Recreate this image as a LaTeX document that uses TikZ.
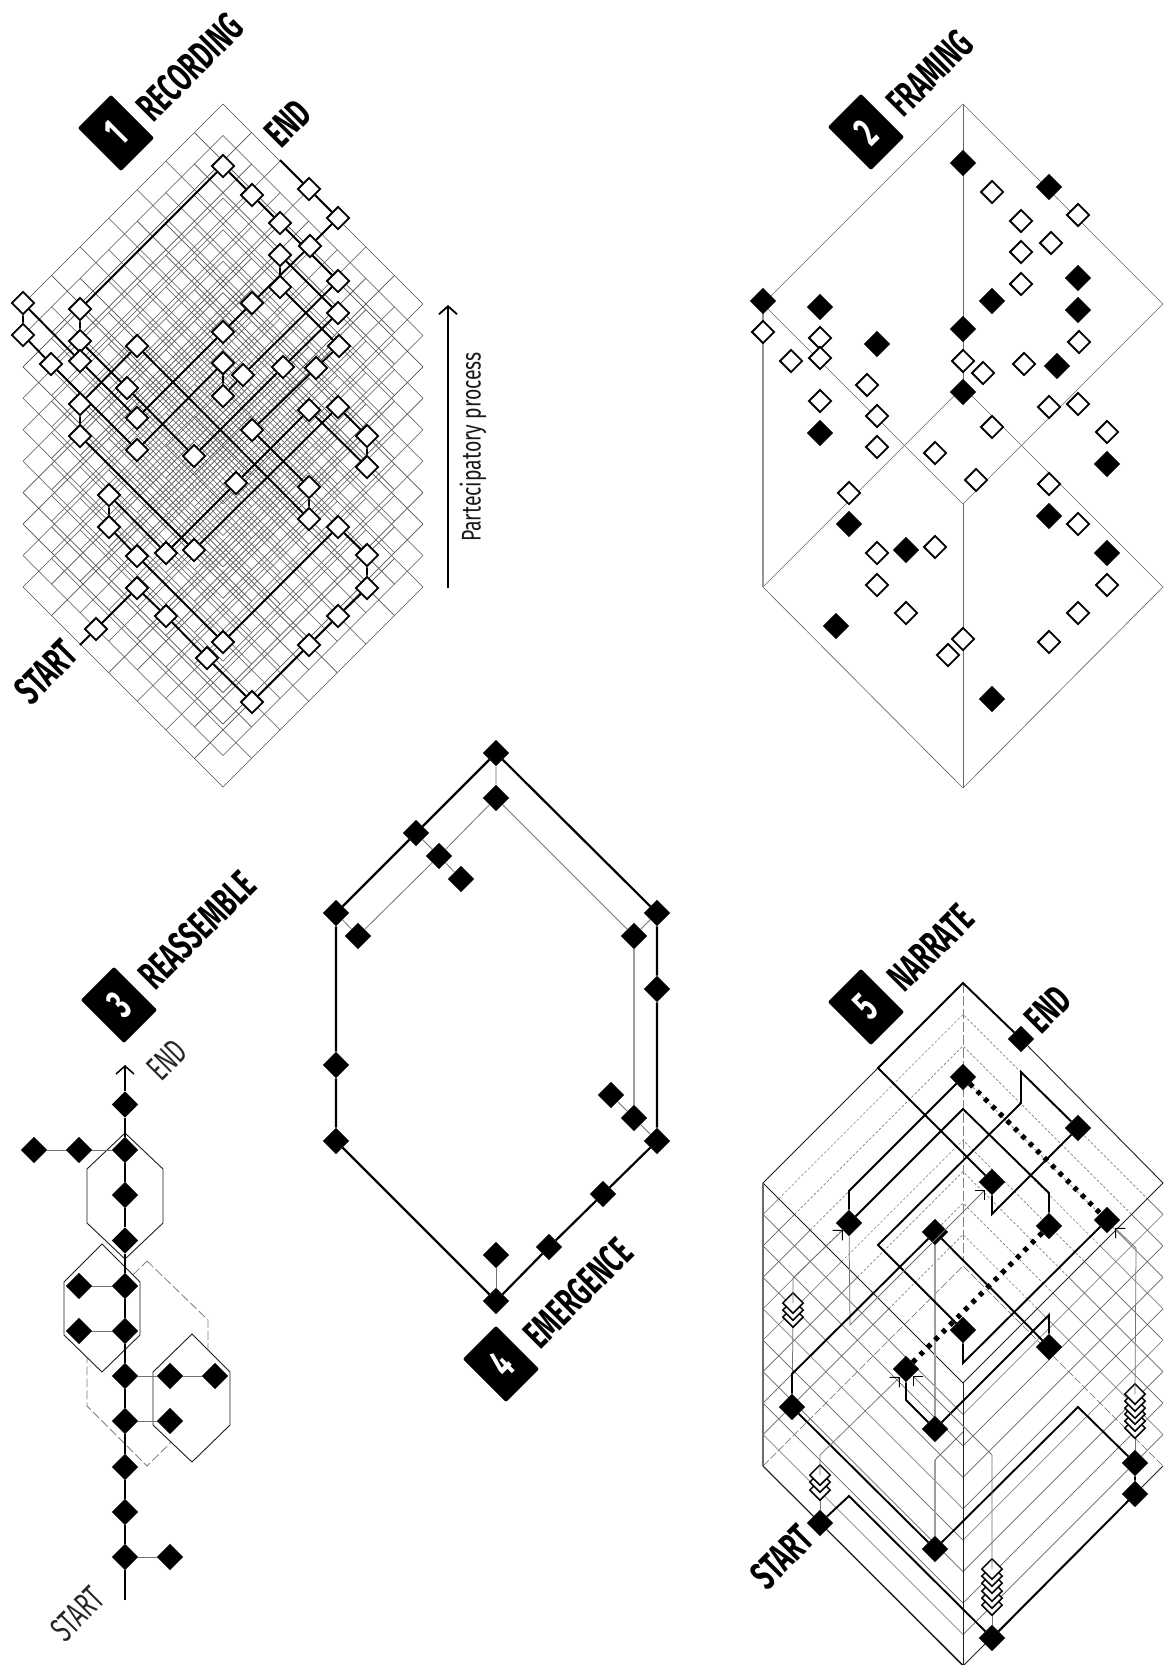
\documentclass[tikz,border=0pt]{standalone}
\usepackage{fontspec}
\usetikzlibrary{shapes.geometric,arrows.meta}
\newfontfamily\din[FakeStretch=0.625]{Fira Sans}
\newfontfamily\dinw[FakeStretch=0.72]{Fira Sans}
\pgfdeclarelayer{bglayer}\pgfdeclarelayer{gridlayer}\pgfdeclarelayer{wirelayer}\pgfdeclarelayer{overlayer}
\pgfsetlayers{bglayer,gridlayer,wirelayer,main,overlayer}
\tikzset{
 hollow/.style={diamond,draw=black,fill=white,line width=1.8pt,inner sep=0,minimum width=22.8pt,minimum height=22.8pt},
 solidd/.style={diamond,fill=black,inner sep=0,minimum width=26.5pt,minimum height=26.5pt},
 stackd/.style={diamond,draw=black,fill=white,line width=1.5pt,inner sep=0,minimum width=21pt,minimum height=21pt},
 wire/.style={line width=1.9pt,black},
 thinwire/.style={line width=0.8pt,black!55},
 lightwire/.style={line width=1.2pt,black!38},
 gridline/.style={line width=0.6pt,black!68},
 darkline/.style={line width=0.9pt,black!88},
 faint/.style={line width=0.65pt,black!60},
 dashedfaint/.style={line width=0.65pt,black!50,dash pattern=on 2.6pt off 2pt},
 route/.style={line width=0.75pt,black!55},
 routetip/.style={-{Straight Barb[length=7pt,width=14pt,black,line width=1pt]}},
 dotline/.style={line width=5pt,black,dash pattern=on 4.5pt off 6pt},
 badge/.style={fill=black,text=white,rounded corners=2pt,minimum width=47pt,minimum height=61pt,inner sep=0,rotate=45,font=\din\bfseries\fontsize{42}{42}\selectfont},
 headlab/.style={rotate=45,inner sep=0,font=\din\bfseries\fontsize{40}{40}\selectfont},
 lightlab/.style={rotate=45,inner sep=0,font=\din\fontsize{35}{35}\selectfont,black!85},
}
\begin{document}
\begin{tikzpicture}[x=1pt,y=-1pt]
\begin{pgfonlayer}{bglayer}
\fill[white] (0,0) rectangle (1163,1665);
\end{pgfonlayer}
\useasboundingbox (0,0) rectangle (1163,1665);

% ---------- Panel 1 grid ----------
\begin{pgfonlayer}{gridlayer}
\foreach \k in {0,...,9}{
 \pgfmathsetmacro\ay{104+31.44*\k}
 \foreach \i in {0,...,7}{
  \pgfmathsetmacro\d{\i*200/7}
  \draw[gridline] (223-\d,\ay+\d) -- ++(200,200);
  \draw[gridline] (223+\d,\ay+\d) -- ++(-200,200);
 }
}
\end{pgfonlayer}

\foreach \n/\x/\y in {a/223/166,b/252/195,c/280/223,d/309/189,e/338/218,f/310/246,g/280/255,h/338/281,i/280/287,j/252/303,k/338/313,l/223/332,m/339/346,n/23/303,o/23/335,p/80/309,q/80/341,r/51/364,s/80/361,t/137/346,u/127/388,v/223/363,w/243/375,A/223/396,x/283/367,y/316/368,B/80/404,C/137/418,D/80/436,E/137/450,F/194/456,G/252/430,H/309/410,I/338/407,J/367/436,K/367/467,L/236/483,M/309/487,N/309/519,O/338/527,P/367/555,Q/367/588,R/109/495,S/109/527,T/137/556,U/166/553,V/194/550,W/137/588,X/96/629,Y/166/616,Z/223/642,AA/207/658,BB/252/702,CC/338/616,DD/309/645}
 {\node[hollow] (r\n) at (\x,\y) {};}
\coordinate (rstart) at (80,645);
\coordinate (rend) at (280,160);
\begin{pgfonlayer}{wirelayer}
\draw[wire] (rstart)--(rX)--(rW)--(rY)--(rAA)--(rBB)--(rDD)--(rCC)--(rQ)--(rP)--(rO)--(rZ)--(rT)--(rS)--(rR)--(rU)--(rL)--(rH)--(rK)--(rJ)--(rI)--(rV)--(rD)--(rB)--(rt)--(rN)--(rM)--(rG)--(ry)--(rm)--(ri)--(rg)--(rk)--(rx)--(rF)--(ru)--(rq)--(rp)--(ra)--(rb)--(rc)--(rh)--(rw)--(rA)--(rv)--(rE)--(rr)--(ro)--(rn)--(rs)--(rC)--(rl)--(rj)--(rf)--(re)--(rd)--(rend);
\end{pgfonlayer}
\node[badge] (b1) at (116,133) {1};
\node[headlab] (t1) at (190,67) {RECORDING};
\node[headlab] (t1e) at (288,123) {END};
\node[headlab] (t1s) at (46,672) {START};
\coordinate (pa) at (448,588);
\coordinate (pb) at (448,305);
\draw[line width=1.8pt,-{Straight Barb[length=8pt,width=18pt,line width=1.8pt]}] (pa) -- (pb);
\node[rotate=90,inner sep=0,font=\dinw\fontsize{27}{27}\selectfont,black!90] (t1p) at (473,447) {Partecipatory process};

% ---------- Panel 2 ----------
\coordinate (f1) at (963,104);\coordinate (f2) at (763,304);\coordinate (f3) at (963,504);\coordinate (f4) at (1163,304);
\coordinate (f5) at (763,587);\coordinate (f6) at (963,387);\coordinate (f7) at (1163,587);\coordinate (f8) at (963,788);
\begin{pgfonlayer}{gridlayer}
\draw[faint] (f1)--(f2)--(f3)--(f4)--cycle;
\draw[faint] (f5)--(f6)--(f7)--(f8)--cycle;
\draw[faint] (f1)--(f6);
\draw[faint] (f3)--(f8);
\draw[line width=1.1pt,black!42] (f2)--(f5);
\end{pgfonlayer}
\foreach \x/\y [count=\i] in {963/163,1049/187,1078/278,992/301,1078/310,763/301,820/307,963/329,877/344,1057/366,963/392,820/433,1107/464,849/524,906/550,1049/516,1107/553,836/626,992/699}
 {\node[solidd] (fb\i) at (\x,\y) {};}
\foreach \x/\y [count=\i] in {992/192,1078/215,1021/221,1051/243,1021/252,1021/284,763/332,820/338,1079/342,820/358,791/361,963/361,983/373,1024/364,867/385,820/401,1049/407,1078/404,877/416,992/427,1107/432,877/447,935/453,976/480,1049/484,849/493,1078/524,877/553,935/547,877/585,1107/585,906/613,1078/613,963/639,948/655,1049/642}
 {\node[hollow] (fh\i) at (\x,\y) {};}
\node[badge] (b2) at (866,132) {2};
\node[headlab] (t2) at (930,73) {FRAMING};

% ---------- Panel 3 ----------
\draw[line width=0.8pt,black!50,dash pattern=on 9pt off 3pt] (147,1261)--(208,1320)--(208,1406)--(147,1466)--(87,1406)--(87,1320)--cycle;
\draw[line width=0.9pt,black!88] (125,1133)--(163,1169)--(163,1223)--(125,1259)--(87,1223)--(87,1169)--cycle;
\draw[line width=0.9pt,black!88,fill=white] (102,1244)--(140,1282)--(140,1335)--(102,1372)--(64,1335)--(64,1282)--cycle;
\draw[line width=0.9pt,black!88,fill=white] (192,1334)--(230,1372)--(230,1425)--(192,1462)--(153,1425)--(153,1372)--cycle;
\foreach \y [count=\i] in {1104.5,1150,1195,1240.5,1286,1331,1376,1421,1467,1512,1557}
 {\node[solidd] (sp\i) at (125,\y) {};}
\foreach \n/\x/\y in {a/79/1150,b/34/1150,c/79/1286,d/79/1331,e/170/1376,f/215/1376,g/170/1421,h/170/1557}
 {\node[solidd] (ss\n) at (\x,\y) {};}
\coordinate (spbot) at (125,1600);
\coordinate (sptop) at (125,1065);
\draw[line width=2.2pt,-{Straight Barb[length=8pt,width=18pt,line width=1.5pt]}] (spbot)--(sp11)--(sp10)--(sp9)--(sp8)--(sp7)--(sp6)--(sp5)--(sp4)--(sp3)--(sp2)--(sp1)--(sptop);
\draw[thinwire] (ssb)--(ssa)--(sp2);
\draw[thinwire] (ssc)--(sp5);
\draw[thinwire] (ssd)--(sp6);
\draw[thinwire] (sp7)--(sse)--(ssf);
\draw[thinwire] (sp8)--(ssg);
\draw[thinwire] (sp11)--(ssh);
\node[badge] (b3) at (119,1005) {3};
\node[headlab] (t3) at (197,930) {REASSEMBLE};
\node[lightlab] (t3e) at (167,1060) {END};
\node[lightlab] (t3s) at (77.5,1614) {START};

% ---------- Panel 4 ----------
\foreach \n/\x/\y in {a/496/753,b/496/798,c/416/833,d/439/856,e/461/879,f/336/913,g/358/936,h/657/913,i/634/936,j/657/989,k/336/1065,l/336/1141,m/657/1141,n/634/1118,o/611/1095,p/603/1194,q/549/1247,r/496/1255,s/496/1301}
 {\node[solidd] (e\n) at (\x,\y) {};}
\begin{pgfonlayer}{wirelayer}
\draw[line width=2.2pt] (ea)--(eh)--(ej)--(em)--(ep)--(eq)--(es)--(el)--(ek)--(ef)--(ec)--(ea);
\draw[thinwire] (ea)--(eb)--(ed)--(eg)--(ef);
\draw[thinwire] (ec)--(ed)--(ee);
\draw[thinwire] (eb)--(ei)--(eh);
\draw[lightwire] (ei)--(en);
\draw[thinwire] (eo)--(en)--(em);
\draw[thinwire] (er)--(es);
\end{pgfonlayer}
\node[badge] (b4) at (501,1364) {4};
\node[headlab] (t4) at (578,1293) {EMERGENCE};

% ---------- Panel 5 ----------
\begin{pgfonlayer}{gridlayer}
\foreach \k in {1,...,9}{
 \pgfmathsetmacro\ly{1183+31.44*\k}
 \pgfmathsetmacro\ay{983+31.44*\k}
 \pgfmathsetmacro\vy{1383+31.44*\k}
 \pgfmathsetmacro\mm{15.72*\k}
 \ifnum\k<9
  \draw[faint] (763,\ly) -- (763+\mm,1183+\mm);
  \draw[faint] (1163,\ly) -- (1163-\mm,1183+\mm);
  \draw[dashedfaint] (763+\mm,1183+\mm) -- (963,\ay) -- (1163-\mm,1183+\mm);
  \draw[faint] (763,\ly) -- (963,\vy) -- (1163,\ly);
 \else
  \draw[line width=0.65pt,black!60,dash pattern=on 8pt off 2.5pt] (763,\ly) -- (963,\ay) -- (1163,\ly);
  \draw[darkline] (763,\ly) -- (963,\vy) -- (1163,\ly);
 \fi
}
\end{pgfonlayer}
\coordinate (n1) at (963,983);\coordinate (n2) at (763,1183);\coordinate (n3) at (963,1383);\coordinate (n4) at (1163,1183);
\coordinate (n5) at (763,1466);\coordinate (n6) at (963,1665);\coordinate (n7) at (963,1260);
\coordinate (c1) at (849,1496);\coordinate (c2) at (1078,1407);\coordinate (c3) at (792,1374);\coordinate (c4) at (1049,1315);
\coordinate (c5) at (906,1400);\coordinate (c6) at (1049,1193);\coordinate (c7) at (963,1109);\coordinate (c8) at (849,1191);
\coordinate (c9) at (963,1363);\coordinate (c10) at (878,1245);\coordinate (c11) at (1021,1103);\coordinate (c12) at (1021,1072);
\coordinate (c13) at (992,1214);\coordinate (c14) at (878,1068);
\foreach \n/\x/\y in {end/1021/1039,k/963/1077,l/1078/1128,d/992/1182,a/849/1223,m/1049/1226,h/1107/1220,c/935/1232,n/963/1330,o/1049/1347,f/906/1369,e/792/1407,g/935/1429,i/1135/1463,j/1135/1494,start/820/1523,p/935/1549,b/992/1638}
 {\node[solidd] (P\n) at (\x,\y) {};}
\foreach \y [count=\i] in {1317,1310,1303}{\node[stackd] (sa\i) at (793,\y) {};}
\foreach \y [count=\i] in {1490,1482,1475}{\node[stackd] (sb\i) at (820,\y) {};}
\foreach \y [count=\i] in {1605,1598,1591,1583,1576,1569}{\node[stackd] (sc\i) at (992,\y) {};}
\foreach \y [count=\i] in {1428,1421,1414,1408,1401,1394}{\node[stackd] (sd\i) at (1135,\y) {};}
\coordinate (r1) at (793,1278);\coordinate (r2) at (850,1325);\coordinate (r3) at (820,1455);
\coordinate (r4) at (992,1455);\coordinate (r5) at (1136,1248);\coordinate (r6) at (935,1460);\coordinate (r7) at (963,1432);
\coordinate (at1) at (843,1230);\coordinate (at2) at (985,1190);\coordinate (at3) at (1115,1228);\coordinate (at4) at (900,1377);\coordinate (at5) at (913,1376);
\begin{pgfonlayer}{wirelayer}
\draw[darkline] (n1)--(c14)--(n2)--(n3)--(n4)--(Pend)--(n1);
\draw[darkline] (n3)--(n6);
\draw[line width=1.8pt,black!58] (n2)--(n5);
\draw[line width=0.8pt,black!50,dash pattern=on 10pt off 3pt] (n1)--(n7);
\draw[darkline] (n5)--(n6);
\draw[lightwire] (Pc)--(Pg);
\draw[lightwire] (r6)--(Pp);
\draw[route] (r6)--(r7);
\draw[route] (Pa)--(r2);
\draw[route] (sa1)--(Pe);
\draw[route] (sb1)--(Pstart);
\draw[route] (sc1)--(Pb);
\draw[route] (sd1)--(Pi);
\draw[wire] (Pstart)--(c1)--(Pb)--(Pj)--(Pi)--(c2)--(Pp)--(Pe)--(c3)--(Pc)--(Po)--(c4)--(Pg)--(c5)--(Pf);
\draw[wire] (Pm)--(c6)--(c7)--(Pa)--(c8)--(Pk);
\draw[wire] (Ph)--(c9)--(Pn)--(c10)--(c11)--(c12)--(Pl)--(c13)--(Pd)--(c14)--(n1)--(Pend);
\draw[dotline] (Pf)--(Pm);
\draw[dotline] (Pk)--(Ph);
\end{pgfonlayer}
\begin{pgfonlayer}{overlayer}
\draw[route,routetip] (sa3.center)--(r1)--(at1);
\draw[route,routetip] (r2)--(at2);
\draw[route,routetip] (sb3.center)--(r3)--(at4);
\draw[route,routetip] (sc6.center)--(r4)--(at5);
\draw[route,routetip] (sd6.center)--(r5)--(at3);
\end{pgfonlayer}
\node[badge] (b5) at (866,1007) {5};
\node[headlab] (t5) at (931,948) {NARRATE};
\node[headlab] (t5e) at (1048,1009) {END};
\node[headlab] (t5s) at (782,1557) {START};
\end{tikzpicture}
\end{document}
